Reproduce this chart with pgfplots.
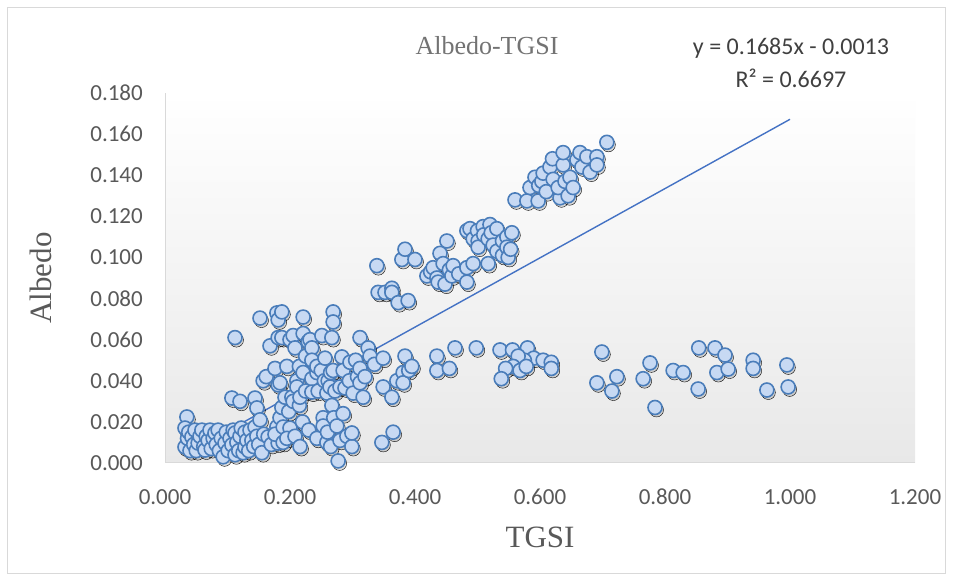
\documentclass[border=0pt]{standalone}
\usepackage{fontspec}
\setmainfont{Liberation Serif}
\newfontfamily\calibri{Carlito}
\usepackage{pgfplots}
\pgfplotsset{compat=1.18}
\usepackage{pgfplotstable}
\definecolor{mkfill}{HTML}{C7D9F3}
\definecolor{mkdraw}{HTML}{4A7DBA}
\definecolor{trend}{HTML}{4472C4}
\definecolor{txt}{HTML}{595959}
\definecolor{frm}{HTML}{D9D9D9}

\pgfplotstableread{
x y
0.032 0.0078
0.035 0.0224
0.032 0.017
0.036 0.012
0.038 0.015
0.040 0.006
0.043 0.0127
0.046 0.009
0.048 0.016
0.050 0.006
0.053 0.0097
0.056 0.013
0.059 0.016
0.062 0.008
0.064 0.0063
0.066 0.013
0.069 0.011
0.072 0.016
0.074 0.007
0.077 0.012
0.080 0.0146
0.082 0.009
0.085 0.016
0.087 0.006
0.090 0.012
0.093 0.003
0.096 0.0097
0.098 0.015
0.101 0.006
0.104 0.012
0.107 0.0088
0.109 0.016
0.112 0.0146
0.112 0.004
0.115 0.010
0.118 0.006
0.120 0.013
0.122 0.017
0.125 0.005
0.128 0.015
0.128 0.0078
0.131 0.011
0.134 0.006
0.136 0.016
0.139 0.011
0.142 0.008
0.144 0.0175
0.147 0.013
0.150 0.009
0.155 0.005
0.158 0.014
0.165 0.0127
0.170 0.009
0.179 0.0175
0.181 0.0097
0.176 0.014
0.107 0.0316
0.120 0.030
0.112 0.061
0.144 0.0316
0.147 0.0268
0.152 0.021
0.152 0.0705
0.157 0.040
0.162 0.042
0.168 0.057
0.176 0.046
0.179 0.073
0.181 0.0696
0.181 0.061
0.181 0.038
0.184 0.022
0.184 0.039
0.187 0.0735
0.187 0.061
0.187 0.027
0.189 0.0175
0.189 0.010
0.192 0.032
0.195 0.047
0.198 0.025
0.200 0.060
0.200 0.017
0.195 0.012
0.203 0.032
0.205 0.062
0.205 0.030
0.208 0.013
0.208 0.056
0.211 0.040
0.211 0.037
0.215 0.028
0.215 0.047
0.216 0.008
0.216 0.032
0.220 0.020
0.221 0.063
0.221 0.071
0.221 0.044
0.225 0.035
0.225 0.052
0.229 0.059
0.230 0.016
0.232 0.060
0.235 0.056
0.235 0.041
0.235 0.0345
0.235 0.050
0.243 0.044
0.243 0.047
0.243 0.012
0.245 0.035
0.250 0.045
0.251 0.062
0.253 0.022
0.253 0.018
0.255 0.040
0.256 0.051
0.259 0.010
0.259 0.034
0.260 0.015
0.261 0.040
0.264 0.037
0.265 0.044
0.265 0.008
0.267 0.061
0.267 0.028
0.269 0.0735
0.269 0.0686
0.269 0.045
0.270 0.022
0.272 0.035
0.275 0.018
0.277 0.001
0.280 0.011
0.280 0.037
0.283 0.0516
0.285 0.024
0.285 0.045
0.288 0.0365
0.291 0.013
0.295 0.040
0.296 0.049
0.299 0.008
0.299 0.0146
0.301 0.034
0.305 0.050
0.308 0.042
0.312 0.061
0.312 0.046
0.312 0.039
0.317 0.032
0.320 0.042
0.325 0.056
0.328 0.052
0.335 0.048
0.347 0.010
0.349 0.037
0.349 0.051
0.363 0.032
0.365 0.015
0.371 0.040
0.381 0.044
0.381 0.039
0.384 0.052
0.390 0.045
0.395 0.047
0.339 0.096
0.341 0.083
0.352 0.083
0.363 0.085
0.363 0.083
0.373 0.078
0.389 0.079
0.379 0.099
0.384 0.104
0.400 0.099
0.419 0.091
0.425 0.093
0.429 0.095
0.435 0.090
0.437 0.088
0.440 0.102
0.445 0.097
0.448 0.087
0.451 0.108
0.455 0.094
0.459 0.091
0.461 0.096
0.470 0.092
0.483 0.095
0.483 0.088
0.493 0.097
0.517 0.097
0.483 0.113
0.488 0.114
0.493 0.109
0.500 0.113
0.501 0.108
0.501 0.105
0.509 0.115
0.510 0.111
0.517 0.109
0.520 0.116
0.522 0.112
0.525 0.106
0.531 0.114
0.531 0.103
0.540 0.108
0.540 0.101
0.547 0.110
0.547 0.105
0.549 0.100
0.553 0.104
0.555 0.112
0.560 0.128
0.579 0.1275
0.597 0.1275
0.632 0.129
0.584 0.134
0.592 0.139
0.598 0.135
0.603 0.137
0.605 0.141
0.610 0.132
0.616 0.144
0.620 0.148
0.621 0.138
0.629 0.134
0.637 0.145
0.637 0.151
0.640 0.137
0.645 0.130
0.648 0.139
0.653 0.134
0.659 0.1475
0.664 0.151
0.667 0.144
0.675 0.149
0.680 0.1415
0.691 0.149
0.691 0.145
0.707 0.156
0.435 0.052
0.435 0.045
0.455 0.046
0.464 0.056
0.498 0.056
0.536 0.055
0.556 0.055
0.580 0.056
0.590 0.051
0.575 0.050
0.565 0.052
0.557 0.047
0.545 0.046
0.538 0.041
0.568 0.045
0.578 0.047
0.605 0.050
0.618 0.049
0.618 0.046
0.699 0.054
0.691 0.039
0.723 0.042
0.715 0.035
0.776 0.0487
0.765 0.041
0.784 0.027
0.813 0.045
0.829 0.044
0.854 0.056
0.853 0.036
0.880 0.056
0.896 0.0525
0.883 0.044
0.901 0.0457
0.941 0.050
0.941 0.046
0.963 0.0355
0.995 0.0477
0.997 0.037
}\datatable

\begin{document}
\begin{tikzpicture}[x=1pt,y=1pt]
\path[use as bounding box] (0,0) rectangle (953,580);
\draw[frm, fill=white, line width=1pt] (7.5,6.5) rectangle (945.5,572.5);
\begin{axis}[
  at={(165pt,117pt)}, anchor=south west,
  scale only axis, width=750pt, height=370pt,
  xmin=0, xmax=1.2, ymin=0, ymax=0.18,
  xtick={0,0.2,0.4,0.6,0.8,1.0,1.2},
  ytick={0,0.02,0.04,0.06,0.08,0.1,0.12,0.14,0.16,0.18},
  axis x line*=bottom, axis y line*=left,
  axis line style={draw=frm, line width=1pt, -},
  major tick length=0pt,
  tick label style={font=\calibri\fontsize{23}{26}\selectfont, text=txt, inner sep=0pt},
  xticklabel style={yshift=-26pt},
  yticklabel style={xshift=-22pt},
  /pgf/number format/.cd, fixed, fixed zerofill, precision=3, assume math mode=true,
  /pgfplots/.cd,
  scaled ticks=false,
  axis background/.style={shade, top color=white, middle color=white, bottom color=black!9},
  clip=false,
]
\addplot[only marks, mark=*, mark size=7pt,
  mark options={draw=none, fill=black, fill opacity=0.13, xshift=1.5pt, yshift=-2.5pt}]
  table[x=x, y=y] {\datatable};
\addplot[only marks, mark=*, mark size=7pt,
  mark options={draw=mkdraw, fill=mkfill, line width=1.6pt}]
  table[x=x, y=y] {\datatable};
\addplot[trend, line width=1.4pt] coordinates {(0.035,0.0046) (1.0,0.1672)};
\end{axis}
\node[text=black!55, font=\fontsize{26}{30}\selectfont] at (487,534) {Albedo-TGSI};
\node[text=black!75, font=\calibri\fontsize{24}{28}\selectfont] at (791,532) {y = 0.1685x - 0.0013};
\node[text=black!75, font=\calibri\fontsize{24}{28}\selectfont] at (791,502) {R² = 0.6697};
\node[text=txt, rotate=90, font=\fontsize{31}{36}\selectfont] at (41,302) {Albedo};
\node[text=txt, font=\fontsize{31}{36}\selectfont] at (540,43) {TGSI};
\end{tikzpicture}
\end{document}
